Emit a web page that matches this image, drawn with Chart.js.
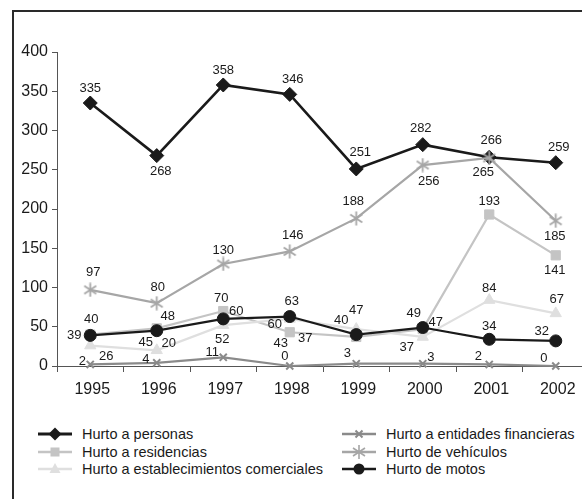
<!DOCTYPE html>
<html><head><meta charset="utf-8">
<script src="https://cdn.jsdelivr.net/npm/chart.js@4/dist/chart.umd.min.js"></script>
<style>
html,body{margin:0;padding:0;background:#fff;overflow:hidden;width:582px;height:499px;position:relative;}
#frame{position:absolute;left:12px;top:10px;width:700px;height:600px;border-top:2px solid #2a2a2a;border-left:2px solid #2a2a2a;}
#wrap{position:absolute;left:0;top:0;width:620px;height:410px;}
.item{position:absolute;display:flex;align-items:center;height:18px;white-space:nowrap;font-family:"Liberation Sans",Arial,sans-serif;font-size:14.5px;color:#1a1a1a;}
.item svg{margin-right:10px;}
</style></head>
<body>
<div id="frame"></div>
<div id="wrap"><canvas id="c"></canvas></div>
<div id="legend"></div>
<script>
const years = ['1995','1996','1997','1998','1999','2000','2001','2002'];
const hurtoPersonas = [335,268,358,346,251,282,266,259];
const hurtoResidencias = [40,48,70,43,37,47,193,141];
const hurtoEstablecimientos = [26,20,52,60,47,37,84,67];
const hurtoEntidades = [2,4,11,0,3,3,2,0];
const hurtoVehiculos = [97,80,130,146,188,256,265,185];
const hurtoMotos = [39,45,60,63,40,49,34,32];
const yTickValues = [0,50,100,150,200,250,300,350,400];

// label placement offsets (pixels) for each value label
const offPersonas = [[0,-15],[4,16],[0,-15],[3,-15],[4,-17],[-2,-16],[2,-17],[3,-15]];
const offResidencias = [[1,-15],[11,-12],[-2,-13],[-9,11],[-51,1],[13,-7],[0,-13],[-1,15]];
const offEstablecimientos = [[16,11],[12,-7],[-1,14],[-15,6],[0,-19],[-16,10],[0,-12],[1,-14]];
const offEntidades = [[-8,-3],[-11,-3],[-11,-5],[-5,-10],[-9,-10],[8,-6],[-11,-8],[-12,-8]];
const offVehiculos = [[3,-17],[1,-16],[0,-14],[3,-16],[-3,-17],[6,16],[-6,14],[-1,16]];
const offMotos = [[-16,0],[-11,12],[13,-7],[2,-15],[-15,-14],[-9,-14],[0,-13],[-14,-9]];

const FONT = '"Liberation Sans", Arial, sans-serif';

// asterisk marker (vertical bar + x) like the original
function asterisk(color) {
  const c = document.createElement('canvas');
  c.width = 15; c.height = 15;
  const g = c.getContext('2d');
  g.strokeStyle = color; g.lineWidth = 1.8; g.lineCap = 'butt';
  g.beginPath();
  g.moveTo(7.5, 0.5); g.lineTo(7.5, 14.5);
  g.moveTo(1.5, 3.5); g.lineTo(13.5, 11.5);
  g.moveTo(13.5, 3.5); g.lineTo(1.5, 11.5);
  g.stroke();
  return c;
}

const series = [
  {label:'Hurto a personas', data:hurtoPersonas, color:'#1a1a1a', style:'rectRot', r:7, lw:2.6, off:offPersonas, order:6},
  {label:'Hurto a residencias', data:hurtoResidencias, color:'#c4c4c4', style:'rect', r:6.5, lw:2.2, off:offResidencias, order:5},
  {label:'Hurto a establecimientos comerciales', data:hurtoEstablecimientos, color:'#dfdfdf', style:'triangle', r:6.5, lw:2.2, off:offEstablecimientos, order:4},
  {label:'Hurto a entidades financieras', data:hurtoEntidades, color:'#8a8a8a', style:'crossRot', r:5, lw:2.2, off:offEntidades, order:3},
  {label:'Hurto de vehículos', data:hurtoVehiculos, color:'#a6a6a6', style:'asterisk', r:7, lw:2.2, off:offVehiculos, order:2},
  {label:'Hurto de motos', data:hurtoMotos, color:'#1a1a1a', style:'circle', r:6, lw:2.2, off:offMotos, order:1}
];

const datasets = series.map(s => ({
  label: s.label, data: s.data, borderColor: s.color, backgroundColor: s.color,
  pointStyle: s.style === 'asterisk' ? asterisk(s.color) : s.style,
  pointRadius: s.r, pointHoverRadius: s.r,
  pointBorderColor: s.color, pointBackgroundColor: s.color,
  pointBorderWidth: (s.style==='crossRot') ? 2 : 1,
  borderWidth: s.lw, tension: 0, clip: false, order: s.order, labelOffsets: s.off
}));

const valueLabels = {
  id: 'valueLabels',
  afterDatasetsDraw(chart) {
    const ctx = chart.ctx;
    ctx.save();
    ctx.font = '13px ' + FONT;
    ctx.fillStyle = '#1a1a1a';
    ctx.textAlign = 'center';
    ctx.textBaseline = 'middle';
    chart.data.datasets.forEach((ds, i) => {
      const meta = chart.getDatasetMeta(i);
      meta.data.forEach((pt, j) => {
        const o = ds.labelOffsets[j];
        ctx.fillText(String(ds.data[j]), pt.x + o[0], pt.y + o[1]);
      });
    });
    ctx.restore();
  }
};

new Chart(document.getElementById('c'), {
  type: 'line',
  data: { labels: years, datasets },
  options: {
    responsive: true, maintainAspectRatio: false, animation: false,
    layout: { padding: { left: 0, top: 52, right: 31, bottom: 0 } },
    plugins: { legend: { display: false }, tooltip: { enabled: false } },
    scales: {
      x: {
        type: 'category', offset: true,
        grid: { offset: true, drawOnChartArea: false, drawTicks: true, tickLength: 6, color: '#555' },
        border: { display: true, color: '#555', width: 1 },
        ticks: { color: '#1a1a1a', font: { family: FONT, size: 16 }, padding: 8, maxRotation: 0, autoSkip: false, labelOffset: 2 },
        afterFit: (s) => { s.height = 44; }
      },
      y: {
        min: 0, max: 400,
        afterBuildTicks: (s) => { s.ticks = yTickValues.map(v => ({ value: v })); },
        grid: { drawOnChartArea: false, drawTicks: true, tickLength: 5, color: '#555' },
        border: { display: true, color: '#555', width: 1 },
        ticks: { color: '#1a1a1a', font: { family: FONT, size: 16 }, padding: 4 },
        afterFit: (s) => { s.width = 57; }
      }
    }
  },
  plugins: [valueLabels]
});

// HTML legend in two columns
function markerSvg(s) {
  const c = s.color;
  let m = '';
  const cx = 17, cy = 7;
  if (s.style === 'rectRot') m = `<polygon points="${cx},${cy-6.5} ${cx+6.5},${cy} ${cx},${cy+6.5} ${cx-6.5},${cy}" fill="${c}"/>`;
  else if (s.style === 'rect') m = `<rect x="${cx-4.5}" y="${cy-4.5}" width="9" height="9" fill="${c}"/>`;
  else if (s.style === 'triangle') m = `<polygon points="${cx},${cy-6} ${cx+5.5},${cy+4} ${cx-5.5},${cy+4}" fill="${c}"/>`;
  else if (s.style === 'crossRot') m = `<path d="M${cx-3.5} ${cy-3.5}L${cx+3.5} ${cy+3.5}M${cx+3.5} ${cy-3.5}L${cx-3.5} ${cy+3.5}" stroke="${c}" stroke-width="2"/>`;
  else if (s.style === 'asterisk') m = `<path d="M${cx} ${cy-7}V${cy+7}M${cx-6} ${cy-4}L${cx+6} ${cy+4}M${cx+6} ${cy-4}L${cx-6} ${cy+4}" stroke="${c}" stroke-width="1.6"/>`;
  else if (s.style === 'circle') m = `<circle cx="${cx}" cy="${cy}" r="5.5" fill="${c}"/>`;
  return `<svg width="34" height="14" viewBox="0 0 34 14"><line x1="0" y1="${cy}" x2="34" y2="${cy}" stroke="${c}" stroke-width="${s.lw+0.4}"/>${m}</svg>`;
}
const legendPos = [
  [38, 425], [38, 442.5], [38, 460],
  [342, 425], [342, 442.5], [342, 460]
];
const legend = document.getElementById('legend');
series.forEach((s, i) => {
  const d = document.createElement('div');
  d.className = 'item';
  d.style.left = legendPos[i][0] + 'px';
  d.style.top = legendPos[i][1] + 'px';
  d.innerHTML = markerSvg(s) + '<span>' + s.label + '</span>';
  legend.appendChild(d);
});
</script>
</body></html>
